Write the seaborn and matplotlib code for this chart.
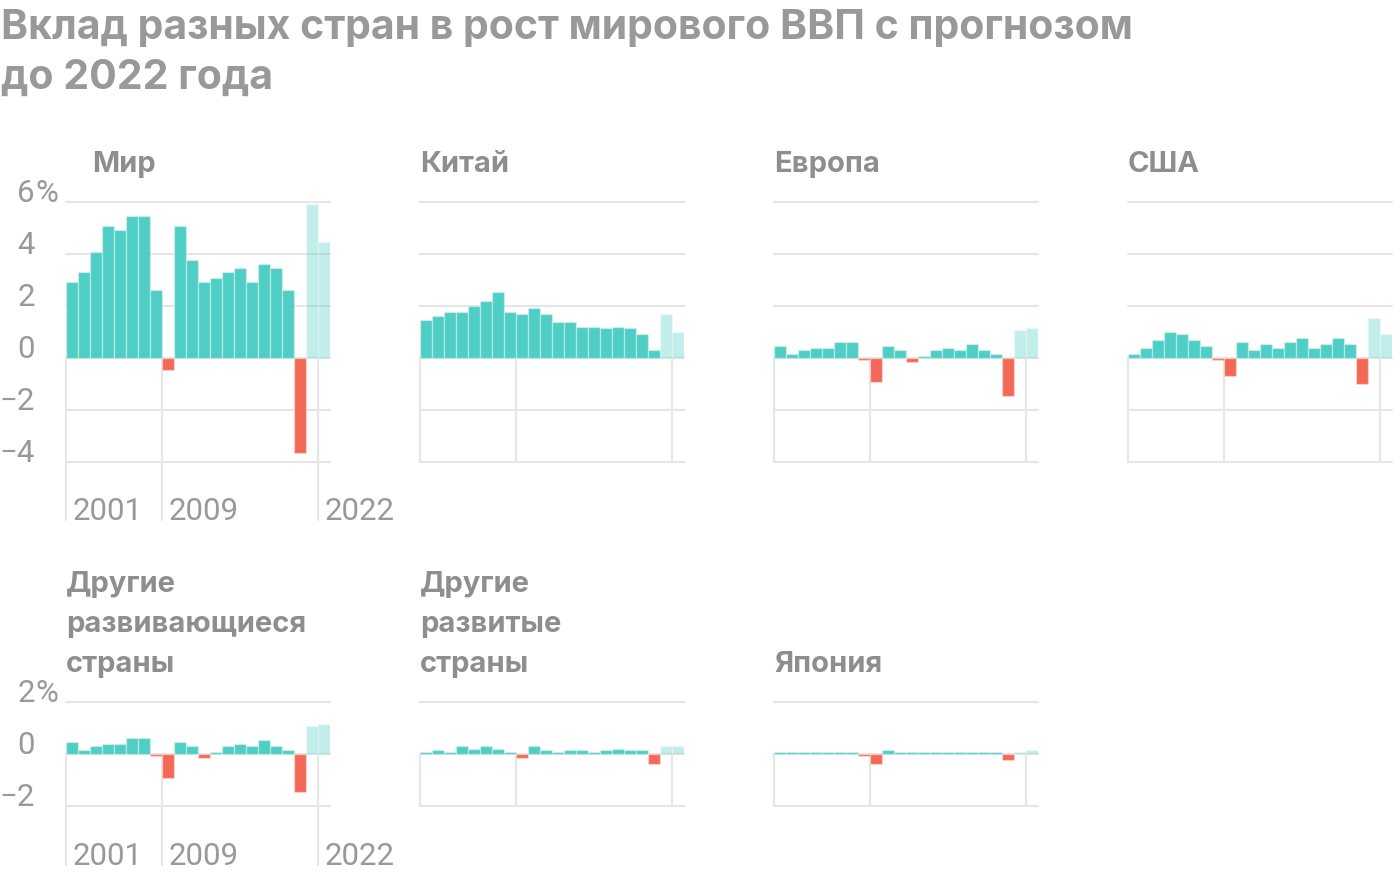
import matplotlib
matplotlib.use('Agg')
import matplotlib.pyplot as plt
import matplotlib.transforms as mtransforms
import seaborn as sns
import pandas as pd

# ---------------- data ----------------
years = list(range(2001, 2023))
forecast_years = [2021, 2022]
marked_years = [2001, 2009, 2022]

world = [2.9, 3.3, 4.06, 5.05, 4.9, 5.45, 5.45, 2.6, -0.46, 5.05, 3.74,
         2.9, 3.05, 3.3, 3.44, 2.9, 3.6, 3.44, 2.6, -3.68, 5.9, 4.44]
china = [1.44, 1.59, 1.74, 1.74, 1.97, 2.2, 2.51, 1.74, 1.67, 1.9, 1.67,
         1.36, 1.36, 1.2, 1.2, 1.13, 1.2, 1.13, 0.9, 0.28, 1.67, 0.97]
europe = [0.44, 0.13, 0.28, 0.36, 0.36, 0.59, 0.59, -0.08, -0.92, 0.44, 0.28,
          -0.15, 0.05, 0.28, 0.36, 0.28, 0.51, 0.28, 0.13, -1.46, 1.05, 1.13]
usa = [0.13, 0.36, 0.67, 0.97, 0.9, 0.67, 0.44, -0.08, -0.69, 0.59, 0.28,
       0.51, 0.36, 0.59, 0.74, 0.36, 0.51, 0.74, 0.51, -1.0, 1.51, 0.9]
other_emerging = [0.44, 0.13, 0.28, 0.36, 0.36, 0.59, 0.59, -0.08, -0.92, 0.44, 0.28,
                  -0.15, 0.05, 0.28, 0.36, 0.28, 0.51, 0.28, 0.13, -1.46, 1.05, 1.13]
other_advanced = [0.08, 0.13, 0.08, 0.28, 0.2, 0.28, 0.2, 0.08, -0.15, 0.28, 0.13,
                  0.08, 0.13, 0.13, 0.08, 0.13, 0.2, 0.13, 0.13, -0.38, 0.28, 0.28]
japan = [0.08, 0.08, 0.08, 0.08, 0.08, 0.08, 0.08, -0.08, -0.38, 0.13, 0.08,
         0.08, 0.08, 0.08, 0.08, 0.08, 0.08, 0.08, 0.08, -0.23, 0.08, 0.13]

title_lines = ["Вклад разных стран в рост мирового ВВП с прогнозом", "до 2022 года"]
top_ticks = [6, 4, 2, 0, -2, -4]
bottom_ticks = [2, 0, -2]

panels = [
    (["Мир"], world, 0, 0),
    (["Китай"], china, 0, 1),
    (["Европа"], europe, 0, 2),
    (["США"], usa, 0, 3),
    (["Другие", "развивающиеся", "страны"], other_emerging, 1, 0),
    (["Другие", "развитые", "страны"], other_advanced, 1, 1),
    (["Япония"], japan, 1, 2),
]

# ---------------- style ----------------
TEAL = '#4FCEC5'
TEAL_FC = '#C5EFEC'
RED = '#F26A57'
GRID = '#E6E6E6'
TXT = '#999999'
TTL = '#8E8E8E'
NUM_FONT = ['Roboto', 'DejaVu Sans']

sns.set_style('white')
plt.rcParams['font.family'] = ['Inter', 'Roboto', 'DejaVu Sans']

W, H = 1400, 876
fig = plt.figure(figsize=(W / 100, H / 100), dpi=100)

col_x = [66, 420, 774, 1128]
ax_w = 264
rows = {
    0: dict(ytop=201.7, h=260, ylim=(-4, 6), ticks=top_ticks, ext=-6.25, title_base=172),
    1: dict(ytop=701.7, h=104, ylim=(-2, 2), ticks=bottom_ticks, ext=-4.28, title_base=672),
}

order = [str(y) for y in years]

for lines, vals, r, c in panels:
    cfg = rows[r]
    x0 = col_x[c]
    ax = fig.add_axes([x0 / W, 1 - (cfg['ytop'] + cfg['h']) / H, ax_w / W, cfg['h'] / H])
    kinds = ['fc' if y in forecast_years else ('neg' if v < 0 else 'pos')
             for y, v in zip(years, vals)]
    df = pd.DataFrame({'year': order, 'value': vals, 'kind': kinds})
    sns.barplot(data=df, x='year', y='value', hue='kind', order=order,
                hue_order=['pos', 'neg', 'fc'],
                palette={'pos': TEAL, 'neg': RED, 'fc': TEAL_FC},
                saturation=1, dodge=False, width=1.0,
                edgecolor=(1, 1, 1, 0.35), linewidth=1.0,
                legend=False, ax=ax, zorder=2)
    # forecast bars translucent
    for p in ax.patches:
        fc = p.get_facecolor()
        if abs(fc[0] - 0xC5 / 255) < 0.02 and abs(fc[1] - 0xEF / 255) < 0.02:
            p.set_facecolor((0x4F / 255, 0xCE / 255, 0xC5 / 255, 0.35))
            p.set_edgecolor((1, 1, 1, 0.25))
    ax.set_xlim(-0.5, len(years) - 0.5)
    ax.set_ylim(*cfg['ylim'])
    ax.set_xticks([])
    ax.set_yticks([])
    ax.set_xlabel('')
    ax.set_ylabel('')
    for s in ax.spines.values():
        s.set_visible(False)
    for t in cfg['ticks']:
        ax.axhline(t, color=GRID, lw=1.5, zorder=0, clip_on=False)
    ybot = cfg['ext'] if c == 0 else cfg['ylim'][0]
    for y in marked_years:
        xi = years.index(y) - 0.5
        ax.plot([xi, xi], [0, ybot], color=GRID, lw=1.5, zorder=0, clip_on=False)
        if c == 0:
            tr = mtransforms.offset_copy(ax.transData, fig=fig, x=7, y=0, units='dots')
            ax.text(xi, cfg['ext'], str(y), transform=tr, ha='left', va='baseline',
                    fontsize=22.5, family=NUM_FONT, color=TXT, clip_on=False)
    if c == 0:
        blend = mtransforms.blended_transform_factory(ax.transAxes, ax.transData)
        tr = mtransforms.offset_copy(blend, fig=fig, x=-31, y=0, units='dots')
        for i, t in enumerate(cfg['ticks']):
            lab = str(abs(t)) if t >= 0 else '\u2212' + str(abs(t))
            ax.text(0, t, lab, transform=tr, ha='right', va='baseline',
                    fontsize=22.5, family=NUM_FONT, color=TXT, clip_on=False)
            if i == 0:
                ax.text(0, t, '%', transform=tr, ha='left', va='baseline',
                        fontsize=22.5, family=NUM_FONT, color=TXT, clip_on=False)
    # panel title
    tx = 92 if (r == 0 and c == 0) else x0
    base = cfg['title_base']
    n = len(lines)
    for k, ln in enumerate(lines):
        yb = base - (n - 1 - k) * 40
        fig.text(tx / W, 1 - yb / H, ln, ha='left', va='baseline', fontsize=21,
                 fontweight='bold', color=TTL)

for k, ln in enumerate(title_lines):
    yb = 39 + k * 50
    fig.text(1 / W, 1 - yb / H, ln, ha='left', va='baseline', fontsize=29.5,
             fontweight='bold', color=TXT)

fig.savefig('out.png', dpi=100, facecolor='white')
